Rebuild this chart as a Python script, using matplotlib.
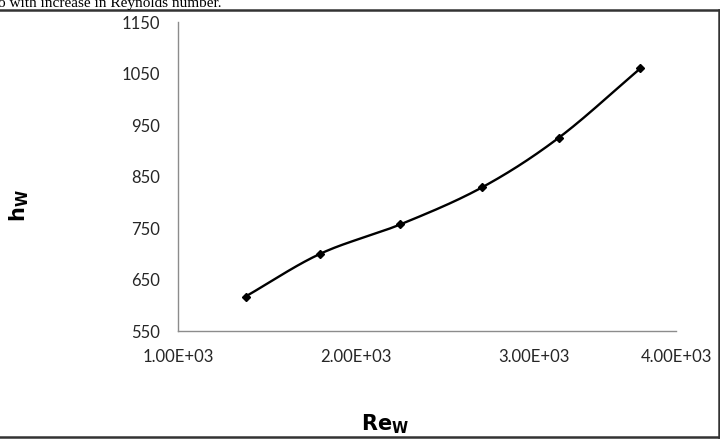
import numpy as np
import matplotlib
matplotlib.use("Agg")
import matplotlib.pyplot as plt
from matplotlib.lines import Line2D

# data
re_w = [1380, 1800, 2250, 2710, 3140, 3600]
h_w = [617, 700, 757, 829, 925, 1060]
y_ticks = [550, 650, 750, 850, 950, 1050, 1150]
x_ticks = [1000, 2000, 3000, 3800]
x_tick_labels = ['1.00E+03', '2.00E+03', '3.00E+03', '4.00E+03']


def smooth_curve(x, y, n=40, tension=0.5):
    # cardinal spline through the points, like a spreadsheet "smoothed line"
    x = np.asarray(x, float)
    y = np.asarray(y, float)
    px = np.concatenate([[2 * x[0] - x[1]], x, [2 * x[-1] - x[-2]]])
    py = np.concatenate([[2 * y[0] - y[1]], y, [2 * y[-1] - y[-2]]])
    xs, ys = [], []
    t = np.linspace(0, 1, n)
    h00 = 2 * t**3 - 3 * t**2 + 1
    h10 = t**3 - 2 * t**2 + t
    h01 = -2 * t**3 + 3 * t**2
    h11 = t**3 - t**2
    for i in range(1, len(px) - 2):
        mx0 = tension * (px[i + 1] - px[i - 1])
        my0 = tension * (py[i + 1] - py[i - 1])
        mx1 = tension * (px[i + 2] - px[i])
        my1 = tension * (py[i + 2] - py[i])
        xs.append(h00 * px[i] + h10 * mx0 + h01 * px[i + 1] + h11 * mx1)
        ys.append(h00 * py[i] + h10 * my0 + h01 * py[i + 1] + h11 * my1)
    return np.concatenate(xs), np.concatenate(ys)


plt.rcParams['font.family'] = ['Lato', 'DejaVu Sans']

fig = plt.figure(figsize=(7.2, 4.42), dpi=100)
ax = fig.add_axes([0.2472, 0.2511, 0.6917, 0.6991])

sx, sy = smooth_curve(re_w, h_w)
ax.plot(sx, sy, color='black', lw=1.7, zorder=2)
ax.plot(re_w, h_w, linestyle='none', marker='D', markersize=4.5,
        color='black', zorder=3)

ax.set_xlim(1000, 3800)
ax.set_ylim(550, 1150)
ax.set_yticks(y_ticks)
ax.set_xticks(x_ticks)
ax.set_xticklabels(x_tick_labels)
ax.tick_params(length=0, labelsize=12, colors='#262626')
ax.tick_params(axis='y', pad=13)
ax.tick_params(axis='x', pad=13)

for side in ['top', 'right']:
    ax.spines[side].set_visible(False)
for side in ['left', 'bottom']:
    ax.spines[side].set_color('#8c8c8c')
    ax.spines[side].set_linewidth(1.0)

fig.text(0.026, 0.535, r'$\mathbf{h}_{\mathbf{W}}$', rotation=90,
         ha='center', va='center', fontsize=15, fontweight='bold')
fig.text(0.535, 0.04, r'$\mathbf{Re}_{\mathbf{W}}$', ha='center',
         va='center', fontsize=15, fontweight='bold')

# caption fragment cut off at the top of the page
fig.text(-0.003, 1.0 - 7 / 442, 'o with increase in Reynolds number.',
         family='Liberation Serif', fontsize=11, ha='left', va='baseline')

# page frame around the chart
frame_kw = dict(color='#333333', lw=1.8, transform=fig.transFigure)
fig.add_artist(Line2D([0, 0.998], [1 - 10 / 442, 1 - 10 / 442], **frame_kw))
fig.add_artist(Line2D([0, 0.998], [5 / 442, 5 / 442], **frame_kw))
fig.add_artist(Line2D([0.998, 0.998], [5 / 442, 1 - 10 / 442], **frame_kw))

fig.savefig('out.png', dpi=100)
